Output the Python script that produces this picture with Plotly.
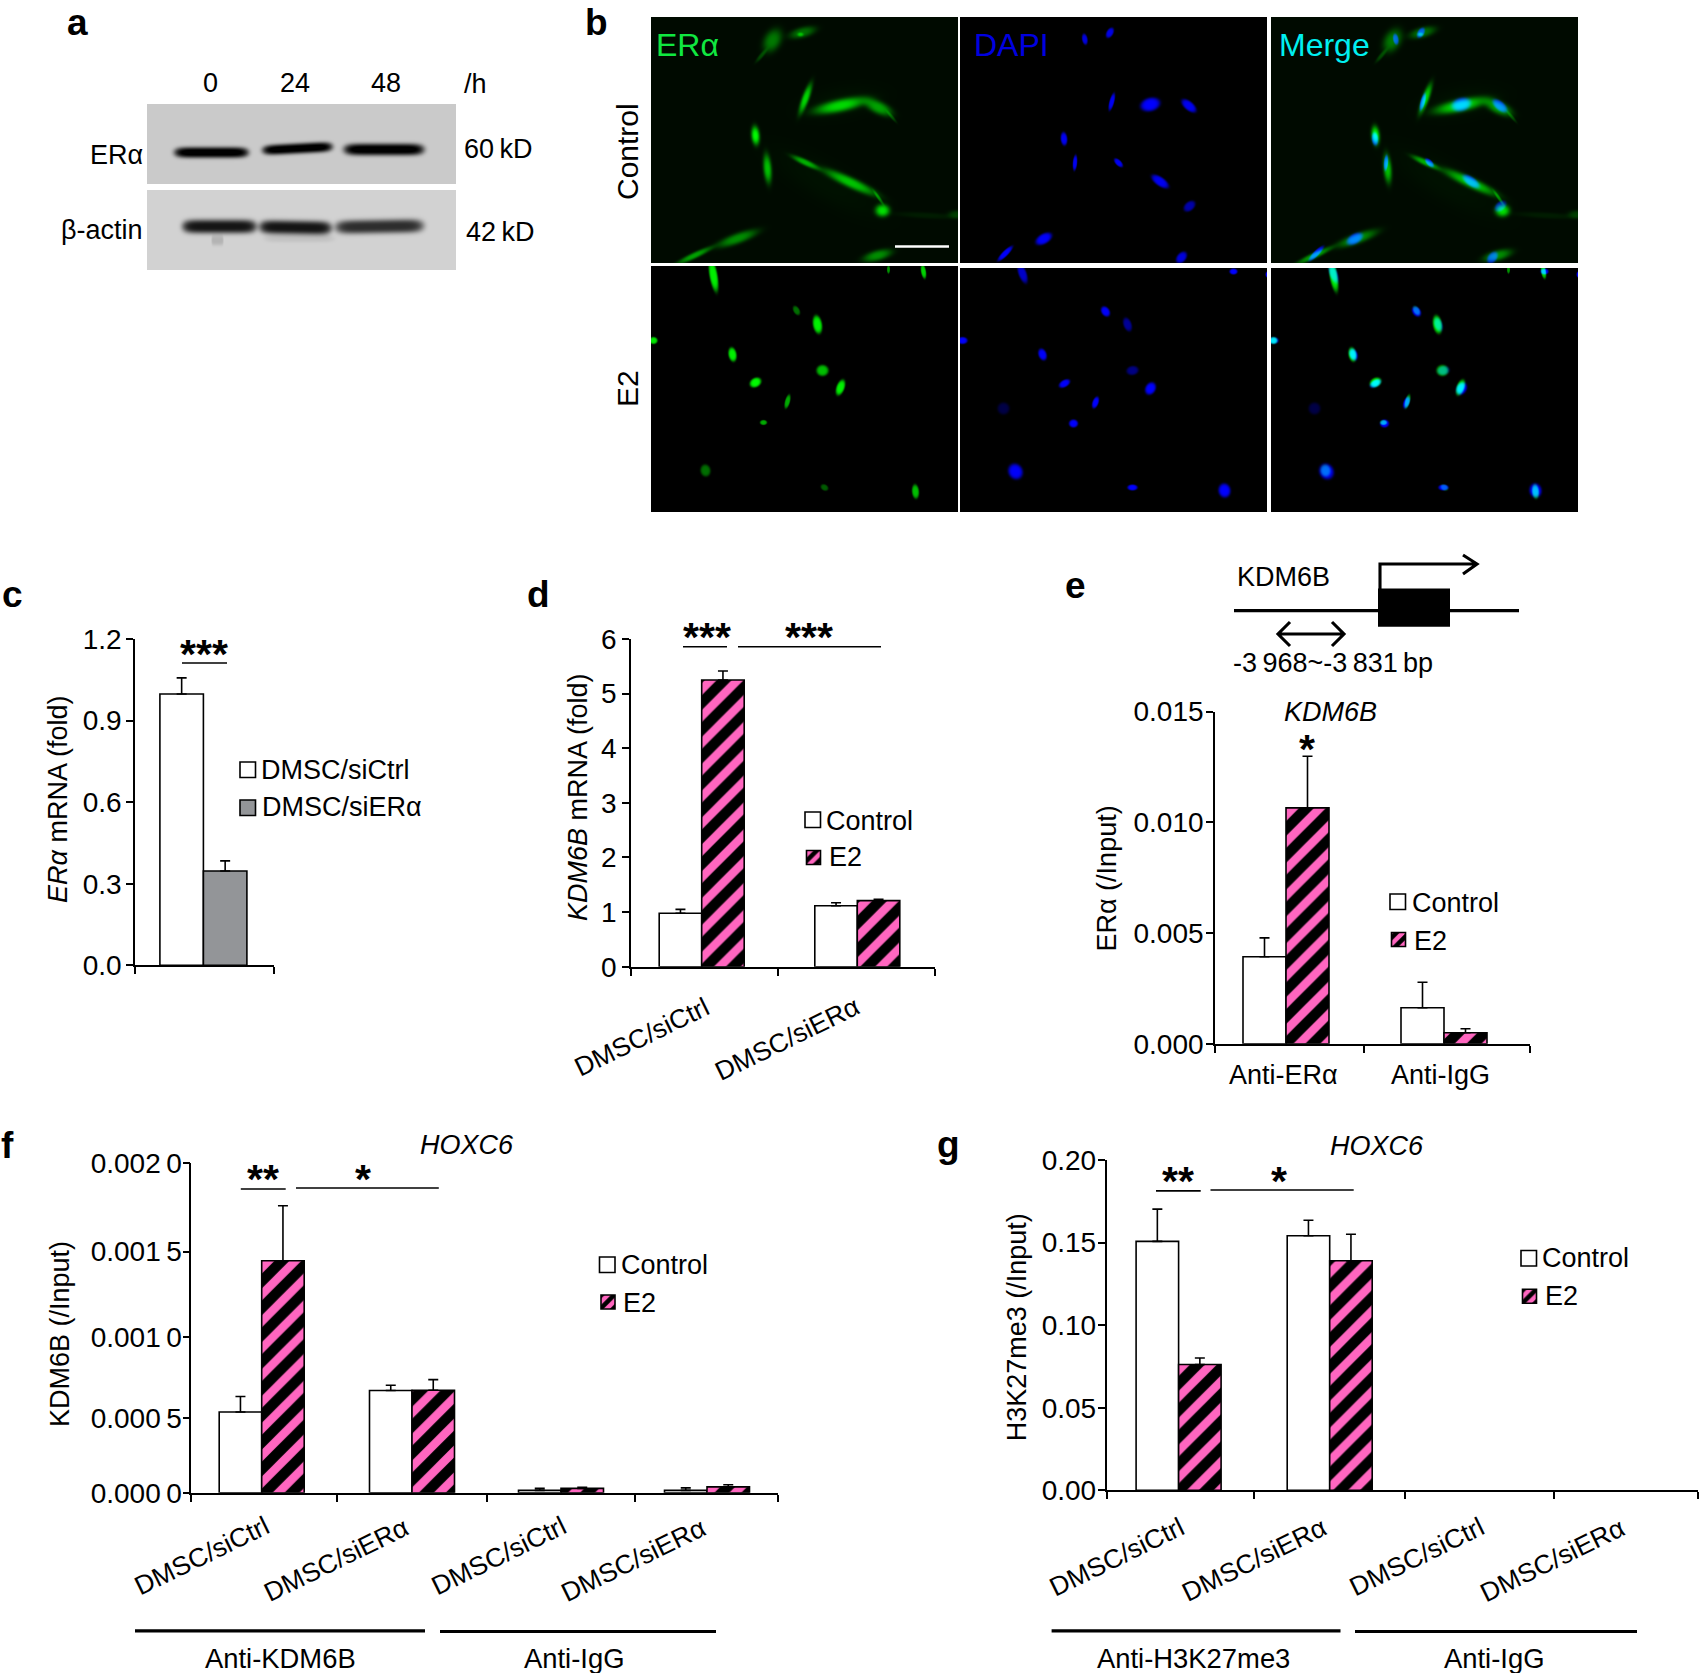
import numpy as np
import plotly.graph_objects as go

W, H = 1699, 1673
FONT = "Liberation Sans"
PINK = "#FF66C0"
GRAY = "#939598"
LW = 1.6

# bar values
C_GROUPS = ["DMSC"]
C_SICTRL = [0.998]
C_SICTRL_ERR = [0.059]
C_SIERA = [0.347]
C_SIERA_ERR = [0.037]

D_GROUPS = ["DMSC/siCtrl", "DMSC/siERα"]
D_CONTROL = [0.98, 1.117]
D_CONTROL_ERR = [0.07, 0.053]
D_E2 = [5.25, 1.21]
D_E2_ERR = [0.165, 0.025]

E_GROUPS = ["Anti-ERα", "Anti-IgG"]
E_CONTROL = [0.00393, 0.00163]
E_CONTROL_ERR = [0.00085, 0.00115]
E_E2 = [0.01065, 0.0005]
E_E2_ERR = [0.00233, 0.00018]

F_GROUPS = ["DMSC/siCtrl", "DMSC/siERα", "DMSC/siCtrl", "DMSC/siERα"]
F_CONTROL = [0.000491, 0.000621, 0.000015, 0.000015]
F_CONTROL_ERR = [0.000094, 0.000032, 0.000012, 0.000015]
F_E2 = [0.001409, 0.000623, 0.000027, 0.000036]
F_E2_ERR = [0.000334, 0.000064, 0.000007, 0.000013]
F_TICKS = [0, 0.000452, 0.000947, 0.001464, 0.002]
F_TICK_TEXT = ["0.000\u20090", "0.000\u20095", "0.001\u20090", "0.001\u20095", "0.002\u20090"]

G_GROUPS = ["DMSC/siCtrl", "DMSC/siERα", "DMSC/siCtrl", "DMSC/siERα"]
G_CONTROL = [0.1507, 0.1541]
G_CONTROL_ERR = [0.0195, 0.0094]
G_E2 = [0.0762, 0.139]
G_E2_ERR = [0.0039, 0.016]

# western blot bands: x, y, half length, half thickness, tilt, darkness
BLOT_ERA = [(64, 48, 37, 5.5, 0, 215), (150, 44, 35, 5.2, -3, 215), (236.5, 45, 40, 6, 0, 215)]
BLOT_ACTIN = [(72, 36, 37, 7, 0, 190), (148, 37, 36, 7, 1, 190), (232, 36, 44, 7, -1, 165),
              (70, 50, 6, 5, 0, 30), (152, 48, 35, 4, 0, 15)]

# micrograph cells: x, y, half length, half width, tilt, brightness
GREEN_TOP = [(121, 23, 12, 8, -60, 110), (110, 38, 8, 2, -50, 60), (151, 15, 13, 5, -15, 100), (149, 17, 3, 2, 0, 90),
             (154, 81, 15, 3.5, -70, 200), (189, 88, 25, 6, -12, 200), (227, 90, 14, 6, 25, 150),
             (240, 99, 7, 1.5, 50, 60), (104, 118, 9, 4, 85, 240), (116, 151, 14, 4, 85, 180),
             (154, 145, 14, 3, 25, 160), (199, 165, 27, 5, 25, 180), (227, 180, 8, 1.5, 55, 100),
             (231, 193, 7, 6, 0, 210), (275, 198, 30, 3, 3, 18), (305, 197, 8, 4, 0, 50),
             (86, 221, 20, 5, -20, 130), (43, 238, 18, 3, -25, 150), (226, 238, 14, 5, -15, 130),
             (175, 165, 60, 18, 30, 7), (190, 85, 40, 15, -10, 7)]
BLUE_TOP = [(124.3, 21.7, 5, 2.5, 80, 220), (149.4, 15.3, 5, 3, -60, 230), (151.3, 84.3, 8, 2.2, -75, 240),
            (189.8, 87, 9, 6, -15, 255), (228.4, 88.3, 8, 4, 40, 240), (103.5, 121.3, 6, 3, 85, 240),
            (114.5, 145.3, 7, 2, -85, 240), (158, 145.3, 5, 2.5, 45, 240), (199.6, 164, 9, 4, 35, 240),
            (229, 188.7, 6, 4, -40, 170), (83.3, 221.3, 8, 4.5, -30, 250), (44.7, 236, 9, 2.5, -45, 250),
            (221, 240, 6, 4, -50, 220)]
GREEN_BOTTOM = [(62, 9, 16, 4, 80, 240), (145, 44, 5, 3, 60, 110), (166, 58, 9, 4.5, 80, 240),
                (2, 74, 4, 3.5, 0, 230), (81, 88, 7, 4, 80, 240), (171, 104, 6, 5.5, 0, 190),
                (104, 116, 6, 4.5, -30, 250), (189, 121, 8, 4, -70, 240), (136, 135, 7, 2.5, -75, 170),
                (112, 156, 3.5, 2.5, 0, 170), (54, 204, 6, 5, 80, 110), (173, 221, 4, 3, 30, 90),
                (264, 225, 7, 3.5, 85, 190), (237, 3, 4, 1.5, 90, 150), (272, 5, 7, 2.5, 80, 210)]
BLUE_BOTTOM = [(62, 5, 10, 4, 70, 200), (145, 43, 5.5, 4, 55, 250), (167, 56, 7, 4, 70, 150),
               (2, 72, 5, 3.5, 0, 250), (82, 86, 6, 4, 70, 250), (172, 102, 6, 4.5, -10, 130),
               (104, 115, 6, 3.5, -30, 250), (190, 120, 6.5, 5, -60, 255), (135, 134, 6, 3, -70, 255),
               (43, 140, 6, 6, 70, 70), (113, 155, 4.5, 4, 0, 255), (55, 203, 8, 7, 60, 250),
               (172, 219, 5, 3, 0, 255), (264, 222, 7, 6, 80, 255), (273, 3, 4, 3, 0, 255), (307, 6, 2, 3, 0, 255)]


def paint(height, width, spots, background=0.0, power=1.4, stretch=1, grow=1.0):
    yy, xx = np.mgrid[0:height, 0:width]
    img = np.full((height, width), float(background))
    for x, y, a, b, tilt, amp in spots:
        t = np.radians(tilt)
        u = (xx - x) * np.cos(t) + (yy - y) * np.sin(t)
        v = -(xx - x) * np.sin(t) + (yy - y) * np.cos(t)
        img += amp * np.exp(-((np.abs(u / (a * grow)) ** (2 * stretch) + (v / (b * grow)) ** 2) ** power))
    return np.clip(img, 0, 255)


def add_image(fig, left, top, r, g, b):
    z = np.stack([r, g, b], axis=2).round().astype(int).tolist()
    fig.add_trace(go.Image(z=z, x0=left + 0.5, y0=top + 0.5, dx=1, dy=1, hoverinfo="skip",
                           xaxis="x", yaxis="y"))


fig = go.Figure()
annotations, shapes = [], []


def note(x, y, text, size=27, anchor="left", angle=0, color="black", bold=False):
    nudge = {"left": -2, "right": 2}.get(anchor, 0)
    annotations.append(dict(x=x + nudge, y=y, xref="x", yref="y", text=text, showarrow=False, xanchor=anchor,
                            yanchor="middle", textangle=angle, borderpad=0,
                            font=dict(family=FONT, size=size, color=color,
                                      weight="bold" if bold else "normal")))


def rule(x0, y0, x1, y1, width=LW):
    shapes.append(dict(type="line", x0=x0, y0=y0, x1=x1, y1=y1, xref="x", yref="y",
                       line=dict(color="black", width=width)))


def stars(cx, y, text):
    note(cx, y + 6, text, size=41, anchor="center", bold=True)


def swatch(left, top, size, kind):
    style = dict(color="white", line=dict(color="black", width=LW))
    if kind == "gray":
        style["color"] = GRAY
    if kind == "hatch":
        style = dict(color=PINK, line=dict(color="black", width=LW),
                     pattern=dict(shape="/", bgcolor=PINK, fgcolor="black", fgopacity=1, size=9, solidity=0.5))
    fig.add_trace(go.Bar(x=[left + size / 2], y=[size], base=[top], width=[size], marker=style,
                         xaxis="x", yaxis="y", hoverinfo="skip", showlegend=False))


def panel(index, box, ymax, yticks, ticktext, xticks, standoff=0):
    # box is the plot area on the page: left, top, right, bottom
    left, top, right, bottom = box
    common = dict(showgrid=False, zeroline=False, showline=True, linecolor="black", linewidth=LW,
                  ticks="outside", tickcolor="black", tickwidth=LW, ticklen=7,
                  tickfont=dict(family=FONT, size=28, color="black"))
    fig.layout[f"xaxis{index}"] = dict(domain=[left / W, right / W], range=[left, right], anchor=f"y{index}",
                                       tickmode="array", tickvals=xticks, showticklabels=False, **common)
    fig.layout[f"yaxis{index}"] = dict(domain=[1 - bottom / H, 1 - top / H], range=[0, ymax], anchor=f"x{index}",
                                       tickmode="array", tickvals=yticks, ticktext=ticktext,
                                       ticklabelstandoff=standoff, **common)


def bars(index, centers, values, errors, width, side, fill):
    marker = dict(color="white", line=dict(color="black", width=LW))
    if fill == "gray":
        marker["color"] = GRAY
    if fill == "hatch":
        marker = dict(color=PINK, line=dict(color="black", width=LW),
                      pattern=dict(shape="/", bgcolor=PINK, fgcolor="black", fgopacity=1, size=19, solidity=0.55))
    fig.add_trace(go.Bar(
        x=centers, y=values, width=width, offset=-width if side == "left" else 0, marker=marker,
        error_y=dict(type="data", array=errors, arrayminus=[0] * len(errors), symmetric=False,
                     color="black", thickness=LW, width=5),
        xaxis=f"x{index}", yaxis=f"y{index}", showlegend=False,
    ))


# ---- a: western blot
g1 = paint(80, 309, BLOT_ERA, power=1.5, stretch=4)
g2 = paint(80, 309, BLOT_ACTIN, power=1.5, stretch=4)
blot1 = np.clip(202 - g1, 0, 255)
blot2 = np.clip(210 - g2, 0, 255)
add_image(fig, 147, 104, blot1, blot1, blot1)
add_image(fig, 147, 190, blot2, blot2, blot2)
for x, t in zip([210, 295, 386], ["0", "24", "48"]):
    note(x, 83, t, anchor="center")
note(465, 84, "/h")
note(142, 155, "ERα", anchor="right")
note(142, 230, "β-actin", anchor="right")
note(465, 149, "60\u2009kD")
note(467, 232, "42\u2009kD")

# ---- b: micrographs
zero_top = np.zeros((246, 307))
zero_bot = np.zeros((244, 307))
green_top = paint(246, 307, GREEN_TOP, 10)
blue_top = paint(246, 307, BLUE_TOP, power=2.5, grow=1.1)
green_bot = paint(246, 307, GREEN_BOTTOM, power=2.5)
blue_bot = paint(244, 307, BLUE_BOTTOM, power=2.5)
green_shift = [(x, y - 2, a, b, t, v) for x, y, a, b, t, v in GREEN_BOTTOM]
add_image(fig, 651, 17, zero_top, green_top, zero_top)
add_image(fig, 960, 17, zero_top, zero_top, blue_top)
add_image(fig, 1271, 17, zero_top, green_top, blue_top)
add_image(fig, 651, 266, np.zeros((246, 307)), green_bot, np.zeros((246, 307)))
add_image(fig, 960, 268, zero_bot, zero_bot, blue_bot)
add_image(fig, 1271, 268, zero_bot, paint(244, 307, green_shift, power=2.5), blue_bot)
note(657, 45, "ERα", size=32, color="#10E840")
note(975, 45, "DAPI", size=32, color="#0000E0")
note(1280, 45, "Merge", size=32, color="#00F0F0")
note(627, 152, "Control", size=30, anchor="center", angle=-90)
note(627, 389, "E2", size=30, anchor="center", angle=-90)
shapes.append(dict(type="line", x0=895, y0=246.5, x1=949, y1=246.5, xref="x", yref="y",
                   line=dict(color="white", width=2.5)))

# ---- c
panel(2, (135, 639, 274, 965.3), 1.2, [0, 0.3, 0.6, 0.9, 1.2], ["0.0", "0.3", "0.6", "0.9", "1.2"], [135, 274], -1)
bars(2, [203.4], C_SICTRL, C_SICTRL_ERR, 43.5, "left", "white")
bars(2, [203.4], C_SIERA, C_SIERA_ERR, 43.5, "right", "gray")
note(58, 800, "<i>ERα</i> mRNA (fold)", anchor="center", angle=-90)
swatch(240, 762, 15.5, "white")
swatch(240, 800, 15.5, "gray")
note(262, 770, "DMSC/siCtrl")
note(263, 807, "DMSC/siERα")
stars(204, 648, "***")
rule(182, 663, 227, 663)

# ---- d
panel(3, (631, 639, 935, 966.7), 6, [0, 1, 2, 3, 4, 5, 6], ["0", "1", "2", "3", "4", "5", "6"], [631, 778, 935], 0)
bars(3, [701.7, 857.3], D_CONTROL, D_CONTROL_ERR, 42.5, "left", "white")
bars(3, [701.7, 857.3], D_E2, D_E2_ERR, 42.5, "right", "hatch")
note(578, 797, "<i>KDM6B</i> mRNA (fold)", anchor="center", angle=-90)
note(642, 1037, D_GROUPS[0], size=26.5, anchor="center", angle=-26)
note(787, 1039, D_GROUPS[1], size=26.5, anchor="center", angle=-26)
swatch(805, 812, 15.5, "white")
swatch(806.5, 850.5, 14, "hatch")
note(827, 820.7, "Control")
note(830, 857, "E2")
stars(706.5, 631, "***")
stars(808.5, 631, "***")
rule(683, 646.7, 727, 646.7)
rule(738, 646.7, 881, 646.7)

# ---- e
panel(4, (1215, 711.5, 1530, 1043.8), 0.015, [0, 0.005, 0.01, 0.015], ["0.000", "0.005", "0.010", "0.015"],
      [1215, 1364, 1530], -3)
bars(4, [1286, 1444], E_CONTROL, E_CONTROL_ERR, 43, "left", "white")
bars(4, [1286, 1444], E_E2, E_E2_ERR, 43, "right", "hatch")
note(1106, 878.5, "ERα (/Input)", anchor="center", angle=-90)
note(1330, 711.5, "<i>KDM6B</i>", anchor="center")
stars(1307, 742.5, "*")
note(1283, 1074.8, E_GROUPS[0], anchor="center")
note(1440, 1074.8, E_GROUPS[1], anchor="center")
swatch(1390, 894, 15.5, "white")
swatch(1391.5, 932.5, 14, "hatch")
note(1413, 902.6, "Control")
note(1415, 940.5, "E2")
# gene schematic
note(1238, 577, "KDM6B")
rule(1234, 610.6, 1519, 610.6, 3.3)
shapes.append(dict(type="rect", x0=1378, y0=588.6, x1=1450, y1=626.8, xref="x", yref="y",
                   fillcolor="black", line=dict(width=0)))
arrow = "M1380,590 L1380,564 L1476,564 M1463,555 L1477,564 L1463,574"
double = "M1290,622 L1278,634 L1290,646 M1278,634 L1344,634 M1332,622 L1344,634 L1332,646"
for path in (arrow, double):
    shapes.append(dict(type="path", path=path, xref="x", yref="y", line=dict(color="black", width=3.1)))
note(1234, 663.3, "-3\u2009968~-3\u2009831\u2009bp")

# ---- f
panel(5, (191.3, 1163.4, 778, 1492.8), 0.002, F_TICKS, F_TICK_TEXT, [191.3, 336.7, 487.2, 635.2, 778], -5)
bars(5, [261.7, 412, 561, 707], F_CONTROL, F_CONTROL_ERR, 42.5, "left", "white")
bars(5, [261.7, 412, 561, 707], F_E2, F_E2_ERR, 42.5, "right", "hatch")
note(60, 1334, "KDM6B (/Input)", anchor="center", angle=-90)
note(467, 1145, "<i>HOXC6</i>", anchor="center")
for (x, y), t in zip([(201.5, 1556), (336, 1560), (498.5, 1556), (633.7, 1560)], F_GROUPS):
    note(x, y, t, size=26.5, anchor="center", angle=-26)
swatch(599.5, 1257, 15.5, "white")
swatch(601, 1295, 14, "hatch")
note(621.5, 1264.6, "Control")
note(624, 1302.7, "E2")
stars(263, 1173, "**")
stars(363, 1173, "*")
rule(240.8, 1189, 285.7, 1189)
rule(296, 1188, 438.8, 1188)
rule(135, 1630.8, 425, 1630.8, 3.2)
rule(440, 1631.5, 716, 1631.5, 3.2)
note(280.6, 1658, "Anti-KDM6B", anchor="center", size=27.4)
note(574, 1658, "Anti-IgG", anchor="center", size=27.4)

# ---- g
panel(6, (1106.6, 1159.9, 1697.5, 1490.4), 0.2, [0, 0.05, 0.1, 0.15, 0.2], ["0.00", "0.05", "0.10", "0.15", "0.20"],
      [1106.6, 1253.7, 1404.7, 1553.8, 1697.5], -4)
bars(6, [1178.6, 1329.7], G_CONTROL, G_CONTROL_ERR, 42.5, "left", "white")
bars(6, [1178.6, 1329.7], G_E2, G_E2_ERR, 42.5, "right", "hatch")
note(1017.3, 1327, "H3K27me3 (/Input)", anchor="center", angle=-90)
note(1377, 1145.7, "<i>HOXC6</i>", anchor="center")
for (x, y), t in zip([(1116.9, 1557), (1254, 1560), (1416.5, 1557), (1552.9, 1560)], G_GROUPS):
    note(x, y, t, size=26.5, anchor="center", angle=-26)
swatch(1521, 1250.5, 15.5, "white")
swatch(1522.5, 1289.3, 14, "hatch")
note(1543, 1258.3, "Control")
note(1545.5, 1296.4, "E2")
stars(1177.7, 1174.7, "**")
stars(1278.7, 1174.7, "*")
rule(1156, 1190.9, 1200.7, 1190.9)
rule(1210.5, 1190, 1353.7, 1190)
rule(1051.6, 1630.8, 1340.5, 1630.8, 3.2)
rule(1355, 1631.5, 1637, 1631.5, 3.2)
note(1193.9, 1658, "Anti-H3K27me3", anchor="center", size=27.4)
note(1494, 1658, "Anti-IgG", anchor="center", size=27.4)

# ---- panel letters
for x, centre, letter in [(68, 22, "a"), (586, 22, "b"), (3, 594, "c"), (528, 594, "d"),
                          (1066, 585, "e"), (2, 1145, "f"), (938, 1144, "g")]:
    note(x, centre, letter, size=37, bold=True)

fig.update_layout(
    width=W, height=H, margin=dict(l=0, r=0, t=0, b=0, autoexpand=False), autosize=False, barmode="overlay",
    paper_bgcolor="white", plot_bgcolor="rgba(0,0,0,0)", showlegend=False,
    font=dict(family=FONT, color="black"),
    xaxis=dict(domain=[0, 1], range=[0, W], visible=False, constrain="domain"),
    yaxis=dict(domain=[0, 1], range=[H, 0], visible=False),
    annotations=annotations, shapes=shapes,
)
fig.write_html("out.html", config={"displayModeBar": False}, post_script="document.body.style.margin='0';")
